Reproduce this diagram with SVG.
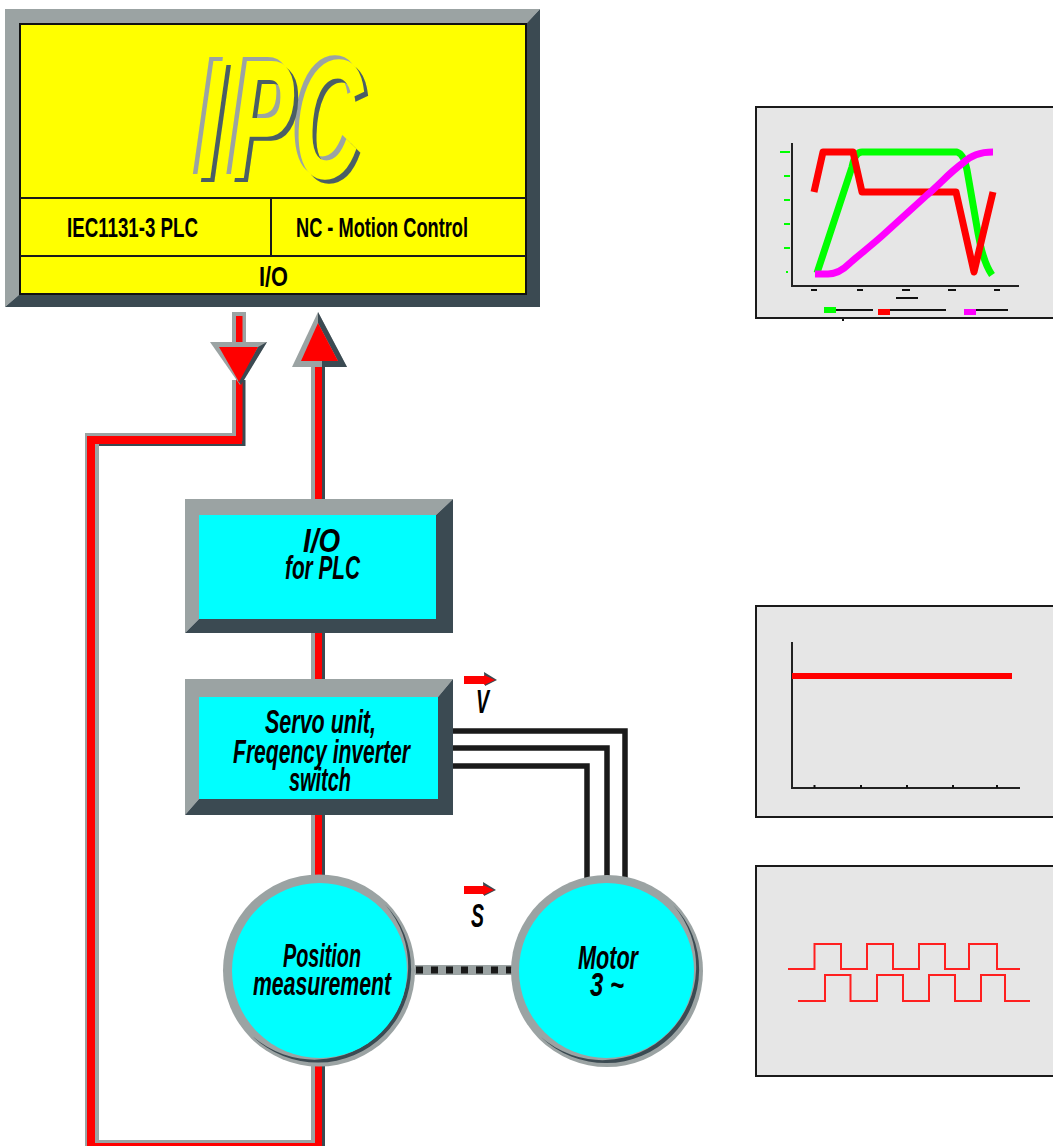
<svg xmlns="http://www.w3.org/2000/svg" width="1053" height="1146" viewBox="0 0 1053 1146">
<style>
.gr{fill:#9ba3a3}.dk{fill:#3b4a52}.rd{fill:#ff0000}.cy{fill:#00ffff}.ye{fill:#ffff00}
.ln{fill:none;stroke:#1a1a1a;stroke-width:2}
.wire{fill:none;stroke:#1a1a1a;stroke-width:5.5}
.panel{fill:#e6e6e6;stroke:#1a1a1a;stroke-width:2}
.ax{fill:none;stroke:#222;stroke-width:2}
.wave{fill:none;stroke:#ff2020;stroke-width:2}
.cv{fill:none;stroke-width:7;stroke-linejoin:round}
.t{font-family:"Liberation Sans",Arial,sans-serif;fill:#000;text-anchor:start}
.tb{font-size:28px;font-weight:bold}
.n{font-size:34px;font-weight:bold;font-style:italic}
</style>
<defs>
<filter id="bevelText" filterUnits="userSpaceOnUse" x="160" y="30" width="240" height="165" color-interpolation-filters="sRGB">
<feOffset in="SourceAlpha" dx="-4" dy="-4" result="a"/>
<feFlood flood-color="#9ba3a3"/><feComposite in2="a" operator="in" result="g"/>
<feOffset in="SourceAlpha" dx="4" dy="4" result="b"/>
<feFlood flood-color="#4a5e66"/><feComposite in2="b" operator="in" result="d"/>
<feMerge><feMergeNode in="g"/><feMergeNode in="d"/><feMergeNode in="SourceGraphic"/></feMerge>
</filter>
</defs>
<rect width="1053" height="1146" fill="#fff"/>

<g id="connectors">
<rect class="gr" x="232" y="312" width="14" height="30"/>
<rect class="gr" x="232" y="380" width="8" height="56"/>
<rect class="dk" x="240" y="380" width="5.500" height="66"/>
<rect class="gr" x="86" y="433" width="154" height="6"/>
<rect class="dk" x="99" y="441" width="146" height="5"/>
<rect class="gr" x="85" y="433" width="14" height="713"/>
<rect class="gr" x="85" y="1140" width="236" height="6"/>
<rect class="gr" x="311" y="360" width="8" height="786"/>
<rect class="dk" x="318" y="360" width="7" height="786"/>
<rect class="rd" x="236" y="316" width="6.500" height="125"/>
<rect class="rd" x="87" y="436" width="155" height="8"/>
<rect class="rd" x="87" y="436" width="8" height="710"/>
<rect class="rd" x="87" y="1143" width="235" height="3"/>
<rect class="rd" x="315" y="362" width="7" height="784"/>
<polygon class="gr" points="210,342 267,342 240,385"/>
<polygon class="dk" points="267,342 258,347 238,381 241,385"/>
<polygon class="rd" points="219,347 258,347 239,382"/>
<polygon class="gr" points="318,312 292,367 347,367"/>
<polygon class="dk" points="318,312 347,367 322,367 322,361 338,361 318,323"/>
<polygon class="rd" points="318,323 301,361 338,361"/>
<path class="wire" d="M453 731H625V880"/>
<path class="wire" d="M453 748H607V880"/>
<path class="wire" d="M453 766H587V880"/>
<rect class="gr" x="415" y="965" width="100" height="10"/>
<line x1="415" y1="970" x2="512" y2="970" stroke="#1a1a1a" stroke-width="7" stroke-dasharray="7 8" stroke-dashoffset="-1"/>
</g>

<g id="ipc">
<polygon class="gr" points="5,9 540,9 526,24 20,24 20,294 5,307"/>
<polygon class="dk" points="540,9 540,307 5,307 20,294 526,294 526,24"/>
<rect class="ye" x="20" y="24" width="506" height="270" stroke="#111" stroke-width="2"/>
<path class="ln" d="M20 198H526M20 256H526M271 198V256"/>
<g filter="url(#bevelText)"><text class="t" style="fill:#ffff00;font-size:170px;font-weight:bold;font-style:italic" transform="translate(0 178) skewX(-2) scale(.55 1)" x="355 416 532" y="0">IPC</text></g>
<text class="t tb" x="67" y="237" textLength="131" lengthAdjust="spacingAndGlyphs">IEC1131-3 PLC</text>
<text class="t tb" x="296" y="237" textLength="172" lengthAdjust="spacingAndGlyphs">NC - Motion Control</text>
<text class="t tb" x="259" y="286" textLength="29" lengthAdjust="spacingAndGlyphs">I/O</text>
</g>

<g id="io-plc">
<polygon class="gr" points="185,499 453,499 436,515 199,515 199,619 185,633"/>
<polygon class="dk" points="453,499 453,633 185,633 199,619 436,619 436,515"/>
<rect class="cy" x="199" y="515" width="237" height="104"/>
<text class="t n"><tspan x="303" y="552" textLength="37" lengthAdjust="spacingAndGlyphs">I/O</tspan><tspan x="285" y="579" textLength="75" lengthAdjust="spacingAndGlyphs">for PLC</tspan></text>
</g>

<g id="servo">
<polygon class="gr" points="185,679 453,679 438,697 199,697 199,799 185,815"/>
<polygon class="dk" points="453,679 453,815 185,815 199,799 438,799 438,697"/>
<rect class="cy" x="199" y="697" width="239" height="102"/>
<text class="t n"><tspan x="265" y="733" textLength="111" lengthAdjust="spacingAndGlyphs">Servo unit,</tspan><tspan x="233" y="763" textLength="177" lengthAdjust="spacingAndGlyphs">Freqency inverter</tspan><tspan x="289" y="791" textLength="62" lengthAdjust="spacingAndGlyphs">switch</tspan></text>
</g>

<g id="position">
<circle class="gr" cx="319" cy="970.500" r="96"/>
<path class="dk" d="M385.100 904.400A93.500 93.500 0 0 1 252.900 1036.600A93.700 93.700 0 0 0 385.100 904.400Z"/>
<circle class="cy" cx="319.500" cy="970.500" r="87.500"/>
<text class="t n"><tspan x="283" y="967" textLength="78" lengthAdjust="spacingAndGlyphs">Position</tspan><tspan x="253" y="995" textLength="138" lengthAdjust="spacingAndGlyphs">measurement</tspan></text>
</g>

<g id="motor">
<circle class="gr" cx="607" cy="971" r="96"/>
<path class="dk" d="M673.100 904.900A93.500 93.500 0 0 1 540.900 1037.100A93.700 93.700 0 0 0 673.100 904.900Z"/>
<circle class="cy" cx="606.500" cy="970.500" r="87.500"/>
<text class="t n"><tspan x="578" y="969" textLength="60" lengthAdjust="spacingAndGlyphs">Motor</tspan><tspan x="590" y="996" textLength="34" lengthAdjust="spacingAndGlyphs">3 ~</tspan></text>
</g>

<g id="vector-v">
<polygon class="dk" points="484,672 497,680 485,686"/>
<polygon class="rd" points="464,676 484,676 484,675 495,680 484,685 484,684 464,684"/>
<text class="t n" x="476" y="713" textLength="13" lengthAdjust="spacingAndGlyphs">V</text>
</g>

<g id="vector-s">
<polygon class="dk" points="483,882 496,890 484,896"/>
<polygon class="rd" points="464,886 483,886 483,885 494,890 483,895 483,894 464,894"/>
<text class="t n" x="471" y="927" textLength="13" lengthAdjust="spacingAndGlyphs">S</text>
</g>

<g id="chart-motion">
<rect class="panel" x="756" y="107" width="310" height="211"/>
<path class="ax" d="M792 143V286H1019"/>
<path d="M780 152H790M784 176H790M784 200H790M784 224H790M784 248H790M786 272H788" stroke="#00ff00" stroke-width="2" fill="none"/>
<path d="M811 290H817M857 290H863M902 290H910M948 290H956M994 290H1000M896 298H918M836 310H873M890 310H946M976 310H1008" stroke="#111" stroke-width="2" fill="none"/>
<rect x="842" y="319" width="2" height="2" fill="#111"/>
<rect x="824" y="307" width="12" height="6" fill="#00ff00"/>
<rect x="878" y="309" width="12" height="6" fill="#ff0000"/>
<rect x="964" y="309" width="12" height="6" fill="#ff00ff"/>
<path class="cv" stroke="#00ff00" d="M817 273L852 167Q855 152 862 152H957Q964 154 967 170L978 233Q983 262 992 275"/>
<path class="cv" stroke="#ff0000" d="M814 192L823 152H853L862 192H956L974 272L993 192"/>
<path class="cv" stroke="#ff00ff" d="M815 274H828C838 274 845 268 850 263C860 254 872 245 883 235L927 195C940 184 950 172 963 163C970 156 980 152 993 152"/>
</g>

<g id="chart-speed">
<rect class="panel" x="756" y="606" width="310" height="211"/>
<path class="ax" d="M792 642V788H1020"/>
<path d="M814.500 785V788M861 785V788M907 785V788M953 785V788M997 785V788" stroke="#111" stroke-width="2"/>
<rect x="792" y="673" width="220" height="6" fill="#ff0000"/>
</g>

<g id="chart-pulses">
<rect class="panel" x="756" y="866" width="310" height="210"/>
<path class="wave" d="M788 969H814.500V944H841V969H867V944H893V969H919V944H945V969H969V944H997V969H1020"/>
<path class="wave" d="M798 1001H825V975H850.500V1001H877V975H903V1001H929V975H955V1001H981V975H1005V1001H1030"/>
</g>
</svg>
